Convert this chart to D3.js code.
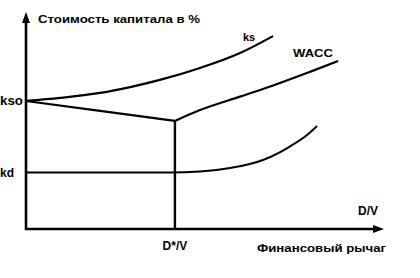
<!DOCTYPE html>
<html><head><meta charset="utf-8">
<script src="https://cdn.jsdelivr.net/npm/d3@7"></script>
<style>body{margin:0;background:#fff}text{font-family:"Liberation Sans",Arial,sans-serif;font-weight:bold;fill:#000}</style>
</head><body>
<svg id="c" width="420" height="278"></svg>
<script>
// leverage D/V (0..100 arbitrary units), cost of capital in % (arbitrary units)
const ksX = [0, 9.5, 20.7, 29.1, 37.4, 48.6, 59.8, 69];
const ksY = [59, 60.4, 62.7, 65.4, 68.7, 74.2, 81.1, 88.9];
const waccX = [0, 20.7, 41.6, 48.6, 59.8, 66.2, 79.3, 87.2];
const waccY = [59, 54.4, 49.8, 54.8, 61, 64.5, 72.4, 77.4];
const kdX = [0, 40.2, 48.6, 57, 66.2, 73.7, 78.5, 81.3];
const kdY = [26, 26, 26.5, 28.1, 31.8, 38, 43.3, 47.5];
const ksoVal = 59, kdVal = 26, dStar = 41.6;
const labels = {y: "Стоимость капитала в %", x: "Финансовый рычаг", xv: "D/V", ds: "D*/V", kso: "kso", kd: "kd", ks: "ks", wacc: "WACC"};

const svg = d3.select("#c");
const x = d3.scaleLinear().domain([0, 100]).range([26, 384]);
const y = d3.scaleLinear().domain([0, 100]).range([229, 12]);
const line = d3.line().x(d => x(d[0])).y(d => y(d[1])).curve(d3.curveMonotoneX);
const lin = d3.line().x(d => x(d[0])).y(d => y(d[1]));

// axes
svg.append("line").attr("x1", x(0)).attr("x2", x(0)).attr("y1", y(0)+1).attr("y2", y(97)).attr("stroke","#000").attr("stroke-width",2.6);
svg.append("line").attr("x1", x(0)-1).attr("x2", x(97)).attr("y1", y(0)).attr("y2", y(0)).attr("stroke","#000").attr("stroke-width",2.6);
svg.append("path").attr("d", `M${x(0)},${y(100)} L${x(0)-4},${y(100)+11} L${x(0)+4},${y(100)+11}Z`).attr("fill","#000");
svg.append("path").attr("d", `M${x(100)},${y(0)} L${x(100)-11},${y(0)-4} L${x(100)-11},${y(0)+4}Z`).attr("fill","#000");

// curves
svg.append("path").attr("d", line(ksX.map((v,i)=>[v,ksY[i]]))).attr("fill","none").attr("stroke","#000").attr("stroke-width",2.2);
svg.append("path").attr("d", lin(waccX.slice(0,3).map((v,i)=>[v,waccY[i]]))).attr("fill","none").attr("stroke","#000").attr("stroke-width",2.2);
svg.append("path").attr("d", line(waccX.slice(2).map((v,i)=>[v,waccY[i+2]]))).attr("fill","none").attr("stroke","#000").attr("stroke-width",2.2);
svg.append("path").attr("d", line(kdX.map((v,i)=>[v,kdY[i]]))).attr("fill","none").attr("stroke","#000").attr("stroke-width",2);
// D*/V vertical
svg.append("line").attr("x1", x(dStar)).attr("x2", x(dStar)).attr("y1", y(waccY[2])).attr("y2", y(0)).attr("stroke","#000").attr("stroke-width",2.4);

// texts
svg.append("text").attr("x", 38).attr("y", 23).attr("font-size", 11).attr("textLength",162).attr("lengthAdjust","spacingAndGlyphs").text(labels.y);
svg.append("text").attr("x", 0).attr("y", y(ksoVal)+4).attr("font-size", 12).attr("font-weight","normal").attr("textLength",23).attr("lengthAdjust","spacingAndGlyphs").text(labels.kso);
svg.append("text").attr("x", 0).attr("y", y(kdVal)+4).attr("font-size", 12).attr("font-weight","normal").text(labels.kd);
svg.append("text").attr("x", 243).attr("y", 41).attr("font-size", 11).text(labels.ks);
svg.append("text").attr("x", 293).attr("y", 57).attr("font-size", 11).attr("textLength",40).attr("lengthAdjust","spacingAndGlyphs").text(labels.wacc);
svg.append("text").attr("x", x(dStar)).attr("y", 250).attr("text-anchor","middle").attr("font-size", 12).attr("font-weight","normal").text(labels.ds);
svg.append("text").attr("x", 358).attr("y", 215).attr("font-size", 12).attr("font-weight","normal").text(labels.xv);
svg.append("text").attr("x", 257).attr("y", 252).attr("font-size", 11).attr("textLength",129).attr("lengthAdjust","spacingAndGlyphs").text(labels.x);
</script>
</body></html>
